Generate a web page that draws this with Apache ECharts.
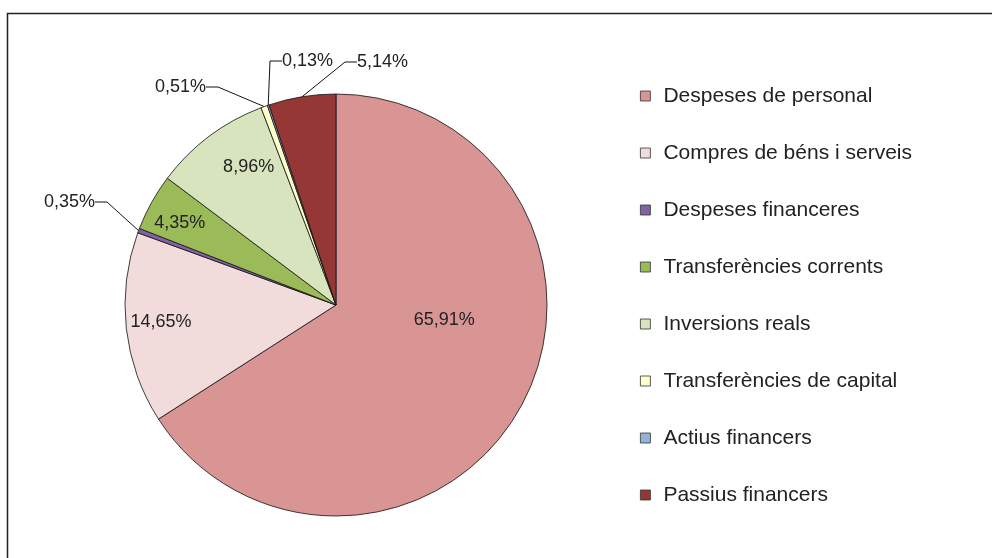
<!DOCTYPE html>
<html>
<head>
<meta charset="utf-8">
<script src="https://cdn.jsdelivr.net/npm/echarts@6/dist/echarts.min.js"></script>
<style>
  html, body { margin: 0; padding: 0; background: #fff; }
  #chart { width: 992px; height: 558px; }
</style>
</head>
<body>
<div id="chart"></div>
<script>
const categories = [
  'Despeses de personal',
  'Compres de béns i serveis',
  'Despeses financeres',
  'Transferències corrents',
  'Inversions reals',
  'Transferències de capital',
  'Actius financers',
  'Passius financers'
];
const shares = [65.91, 14.65, 0.35, 4.35, 8.96, 0.51, 0.13, 5.14];
const colors = ['#d99594', '#f2dcdb', '#8064a2', '#9bbb59', '#d7e4bd', '#ffffcc', '#95b3d7', '#953735'];

// which labels sit outside with a leader line, and which go inside
const outerLabels = [2, 5, 6, 7];
const ringLabels = [1, 3, 4];

const fmt = v => v.toFixed(2).replace('.', ',') + '%';
const font = '"Liberation Sans", Arial, sans-serif';

// spots for the outside labels (x, y, align)
const outerSpots = {
  2: [95, 202, 'right'],
  5: [206, 87, 'right'],
  6: [282, 61, 'left'],
  7: [357, 62, 'left']
};

const myChart = echarts.init(document.getElementById('chart'));

const option = {
  animation: false,
  graphic: [{
    type: 'rect',
    shape: { x: 7.5, y: 13.5, width: 1000, height: 600 },
    style: { fill: 'none', stroke: '#222', lineWidth: 1.5 },
    silent: true
  }],
  legend: {
    orient: 'vertical',
    left: 635,
    top: 79,
    itemWidth: 10,
    itemHeight: 10,
    itemGap: 33,
    icon: 'rect',
    itemStyle: { borderColor: '#333', borderWidth: 0.8 },
    textStyle: { fontFamily: font, fontSize: 21, color: '#222', lineHeight: 24, padding: [0, 0, 0, 8] },
    data: categories
  },
  series: [
    {
      type: 'pie',
      center: [336, 305],
      radius: [0, 211],
      startAngle: 90,
      clockwise: true,
      avoidLabelOverlap: false,
      itemStyle: { borderColor: '#111', borderWidth: 0.8 },
      emphasis: { disabled: true },
      labelLine: { show: true, length: 20, length2: 12, lineStyle: { color: '#111', width: 1 } },
      labelLayout: p => {
        const s = outerSpots[p.dataIndex];
        if (s) return { x: s[0], y: s[1], align: s[2], verticalAlign: 'middle' };
        if (p.dataIndex === 0) return { dx: 13, dy: -37 };
      },
      data: categories.map((name, i) => ({
        name,
        value: shares[i],
        itemStyle: { color: colors[i] },
        label: {
          show: i === 0 || outerLabels.includes(i),
          position: i === 0 ? 'inside' : 'outside',
          formatter: fmt(shares[i]),
          fontFamily: font,
          fontSize: 18,
          color: '#222'
        },
        labelLine: { show: outerLabels.includes(i) }
      }))
    },
    {
      // transparent ring that only carries the mid-radius labels
      type: 'pie',
      center: [336, 305],
      radius: [127, 211],
      startAngle: 90,
      clockwise: true,
      silent: true,
      avoidLabelOverlap: false,
      itemStyle: { color: 'rgba(0,0,0,0)', borderWidth: 0 },
      labelLine: { show: false },
      labelLayout: p => {
        if (p.dataIndex === 4) return { dx: 16, dy: 0 };
        if (p.dataIndex === 3) return { dx: -6, dy: 2 };
        if (p.dataIndex === 1) return { dx: -4, dy: -2 };
      },
      data: categories.map((name, i) => ({
        name,
        value: shares[i],
        label: {
          show: ringLabels.includes(i),
          position: 'inside',
          formatter: fmt(shares[i]),
          fontFamily: font,
          fontSize: 18,
          color: '#222'
        }
      }))
    }
  ]
};

myChart.setOption(option);
</script>
</body>
</html>
